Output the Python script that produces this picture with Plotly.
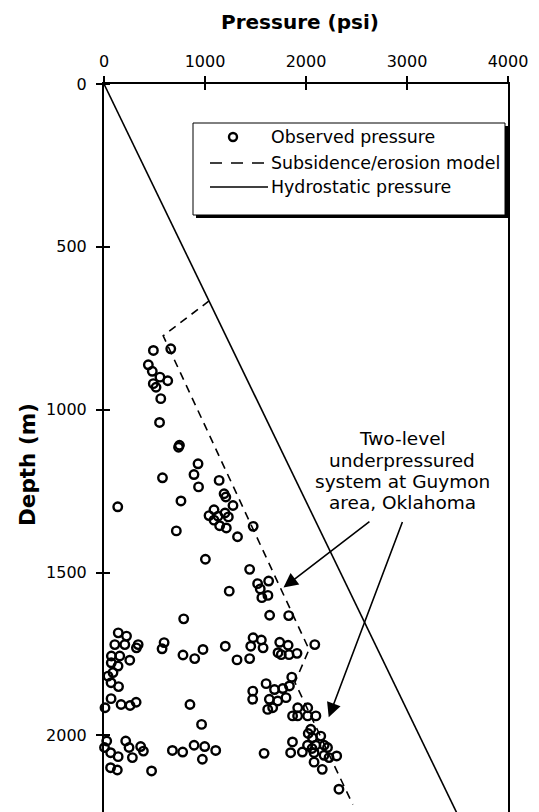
import plotly.graph_objects as go

# ---------------- data ----------------
obs_pressure = [489, 661, 439, 478, 554, 631, 488, 515, 562, 550, 738, 747, 931, 891, 936, 579,
                1140, 1189, 1206, 1277, 136, 762, 1089, 1040, 1129, 1198, 1231, 1089, 1145, 1211,
                716, 1322, 1477, 1004, 1442, 1521, 1630, 1547, 1623, 1563, 1240, 1640, 1829, 789,
                2087, 1476, 1558, 1453, 1575, 1740, 1823, 1723, 1755, 1832, 1911, 1442, 1317,
                1859, 1605, 1688, 1770, 1836, 1473, 980, 1201, 1472, 1637, 1720, 1802, 1621, 1670,
                1918, 2017, 1917, 1867, 2016, 2098, 966, 2047, 2146, 2064, 1866, 2015, 2097, 2180,
                2022, 2060, 2213, 1848, 1964, 2080, 2179, 2228, 2304, 2080, 2161, 1585, 2326,
                107, 206, 338, 595, 575, 782, 898, 73, 156, 255, 321, 72, 139, 89, 40, 70, 144,
                70, 169, 258, 318, 10, 851, 27, 5, 66, 140, 215, 248, 281, 363, 390, 677, 779,
                892, 997, 1106, 974, 65, 132, 471, 141, 223]
obs_depth = [818, 813, 862, 882, 900, 911, 920, 931, 966, 1039, 1115, 1109, 1166, 1199, 1237, 1209,
             1217, 1258, 1268, 1294, 1298, 1280, 1307, 1325, 1327, 1317, 1329, 1339, 1356, 1363,
             1372, 1390, 1358, 1459, 1490, 1534, 1526, 1550, 1570, 1577, 1557, 1631, 1632, 1642,
             1721, 1700, 1707, 1726, 1731, 1714, 1723, 1746, 1752, 1752, 1748, 1764, 1768,
             1821, 1841, 1859, 1856, 1848, 1864, 1736, 1726, 1889, 1889, 1894, 1884, 1920, 1915,
             1915, 1915, 1940, 1940, 1940, 1940, 1966, 1981, 2002, 2007, 2020, 2030, 2030, 2030,
             1994, 2040, 2037, 2053, 2051, 2053, 2061, 2068, 2063, 2082, 2104, 2055, 2165,
             1721, 1721, 1721, 1715, 1734, 1753, 1764, 1756, 1756, 1769, 1731, 1777, 1787, 1807,
             1818, 1838, 1850, 1887, 1905, 1908, 1898, 1915, 1905, 2017, 2037, 2053, 2065, 2017,
             2037, 2068, 2034, 2048, 2046, 2051, 2030, 2034, 2046, 2073, 2099, 2106, 2109,
             1685, 1695]

model_pressure = [1040, 586, 2030, 1890, 2463]
model_depth = [666, 773, 1736, 1837, 2212]

hydro_pressure = [0, 3590]
hydro_depth = [0, 2300]

x_tickvals = [0, 1000, 2000, 3000, 4000]
y_tickvals = [0, 500, 1000, 1500, 2000]

legend_labels = ["Observed pressure", "Subsidence/erosion model", "Hydrostatic pressure"]
note_lines = ["Two-level", "underpressured", "system at Guymon", "area, Oklahoma"]
arrow_tips = [(1777, 1546), (2225, 1944)]      # (pressure, depth)
arrow_tails = [(2643, 1340), (2960, 1340)]

# ---------------- layout helpers ----------------
W, H = 539, 812
ML, MR, MT, MB = 104, 31, 84, 0
PW, PH = W - ML - MR, H - MT - MB
FONT = "DejaVu Sans"


def pxx(px):
    return (px - ML) / PW


def pxy(py):
    return 1 - (py - MT) / PH


fig = go.Figure()

fig.add_trace(go.Scatter(x=hydro_pressure, y=hydro_depth, mode="lines",
                         line=dict(color="black", width=1.6), showlegend=False))
fig.add_trace(go.Scatter(x=model_pressure, y=model_depth, mode="lines",
                         line=dict(color="black", width=1.6, dash="8px,6px"), showlegend=False))
fig.add_trace(go.Scatter(x=obs_pressure, y=obs_depth, mode="markers",
                         marker=dict(symbol="circle-open", size=8.5, color="black",
                                     line=dict(width=2.4, color="black")),
                         showlegend=False, cliponaxis=False))

axis_common = dict(showgrid=False, zeroline=False, showline=True, linecolor="black", linewidth=2,
                   ticks="outside", ticklen=6, tickwidth=2, tickcolor="black",
                   tickfont=dict(family=FONT, size=16, color="black"))

fig.update_xaxes(range=[0, 4000], side="top", tickmode="array", tickvals=x_tickvals,
                 ticktext=[str(v) for v in x_tickvals], ticklabelstandoff=3,
                 minor=dict(tickmode="array", tickvals=x_tickvals[1:-1], ticks="inside",
                            ticklen=6, tickwidth=2, tickcolor="black"),
                 **axis_common)
fig.update_yaxes(range=[2235, 0], tickmode="array", tickvals=y_tickvals,
                 ticktext=[str(v) for v in y_tickvals], mirror=True, ticklabelstandoff=6,
                 minor=dict(tickmode="array", tickvals=y_tickvals, ticks="inside",
                            ticklen=6, tickwidth=2, tickcolor="black"),
                 **axis_common)

shapes = []
annotations = []

# legend box with drop shadow
bx0, by0, bx1, by1 = 193, 123, 505, 215
shapes.append(dict(type="rect", xref="paper", yref="paper", x0=pxx(bx0 + 3), x1=pxx(bx1 + 3),
                   y0=pxy(by1 + 3), y1=pxy(by0 + 3), fillcolor="black", line=dict(width=0),
                   layer="above"))
shapes.append(dict(type="rect", xref="paper", yref="paper", x0=pxx(bx0), x1=pxx(bx1),
                   y0=pxy(by1), y1=pxy(by0), fillcolor="white",
                   line=dict(color="black", width=1), layer="above"))
rows = [137, 163, 187]
shapes.append(dict(type="circle", xref="paper", yref="paper", xsizemode="pixel", ysizemode="pixel",
                   xanchor=pxx(233), yanchor=pxy(rows[0]), x0=-4, x1=4, y0=-4, y1=4,
                   line=dict(color="black", width=2.4), layer="above"))
shapes.append(dict(type="line", xref="paper", yref="paper", x0=pxx(210), x1=pxx(268),
                   y0=pxy(rows[1]), y1=pxy(rows[1]), line=dict(color="black", width=1.6, dash="12px,9px"),
                   layer="above"))
shapes.append(dict(type="line", xref="paper", yref="paper", x0=pxx(210), x1=pxx(268),
                   y0=pxy(rows[2]), y1=pxy(rows[2]), line=dict(color="black", width=1.6),
                   layer="above"))
for lab, r in zip(legend_labels, rows):
    annotations.append(dict(text=lab, xref="paper", yref="paper", x=pxx(269), y=pxy(r),
                            xanchor="left", yanchor="middle", showarrow=False,
                            font=dict(family=FONT, size=17.4, color="black")))

# note text
for line, yy in zip(note_lines, [438, 460, 482, 503]):
    annotations.append(dict(text=line, xref="paper", yref="paper", x=pxx(402), y=pxy(yy),
                            xanchor="center", yanchor="middle", showarrow=False,
                            font=dict(family=FONT, size=18.5, color="black")))
for (tx, ty), (sx, sy) in zip(arrow_tips, arrow_tails):
    annotations.append(dict(text="", x=tx, y=ty, xref="x", yref="y", ax=sx, ay=sy,
                            axref="x", ayref="y", showarrow=True, arrowhead=2, arrowsize=1.8,
                            arrowwidth=1.6, arrowcolor="black"))

# axis titles
annotations.append(dict(text="<b>Pressure (psi)</b>", xref="paper", yref="paper", x=pxx(300),
                        y=pxy(22), xanchor="center", yanchor="middle", showarrow=False,
                        font=dict(family=FONT, size=20, color="black")))
annotations.append(dict(text="<b>Depth (m)</b>", xref="paper", yref="paper", x=pxx(27),
                        y=pxy(465), xanchor="center", yanchor="middle", showarrow=False,
                        textangle=-90, font=dict(family=FONT, size=21.5, color="black")))

fig.update_layout(width=W, height=H, margin=dict(l=ML, r=MR, t=MT, b=MB, autoexpand=False),
                  paper_bgcolor="white", plot_bgcolor="white", showlegend=False,
                  shapes=shapes, annotations=annotations)

fig.write_html("out.html")
